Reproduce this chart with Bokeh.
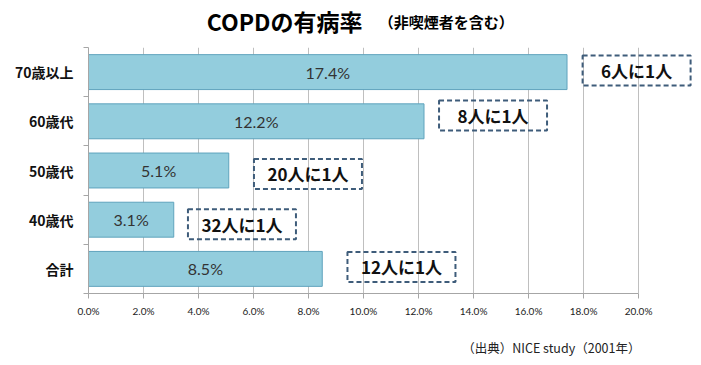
from bokeh.plotting import figure
from bokeh.layouts import column
from bokeh.models import ColumnDataSource, FixedTicker, PrintfTickFormatter
from bokeh.core.properties import value
from bokeh.embed import file_html
from bokeh.resources import INLINE

# ---- data ----
categories = ["合計", "40歳代", "50歳代", "60歳代", "70歳以上"]   # bottom -> top
rates = [8.5, 3.1, 5.1, 12.2, 17.4]                               # %
rate_labels = ["8.5%", "3.1%", "5.1%", "12.2%", "17.4%"]
notes = ["12人に1人", "32人に1人", "20人に1人", "8人に1人", "6人に1人"]
note_x = [11.38, 5.58, 7.98, 14.71, 19.93]        # note box centre, in %
note_dy = [0.04, -0.09, -0.07, 0.12, 0.03]        # note box offset from the bar row
x_ticks = [0, 2, 4, 6, 8, 10, 12, 14, 16, 18, 20]
title_main = "COPDの有病率"
title_sub = "（非喫煙者を含む）"
source_note = "（出典）NICE study（2001年）"

JP = "Noto Sans CJK JP"
X_END = 22.29          # visible x extent (axis itself stops at 20%)
LEFT = 88
FRAME_W = 613

idx = list(range(len(categories)))
src = ColumnDataSource(dict(
    y=idx, rate=rates, half=[r / 2 for r in rates], lbl=rate_labels,
    note=notes, nx=note_x, ny=[i + d for i, d in zip(idx, note_dy)],
))


def blank(height):
    f = figure(frame_width=FRAME_W, frame_height=height, output_backend="svg",
               toolbar_location=None, x_range=(0, X_END), y_range=(0, 1),
               min_border_left=LEFT, min_border_right=0, min_border_top=0,
               min_border_bottom=0, outline_line_color=None)
    f.axis.visible = False
    f.grid.visible = False
    f.title.visible = False
    return f


# ---- title strip ----
t = blank(47)
t.text(x=[4.3], y=[0.57], text=[title_main], text_font=value(JP),
       text_font_style="bold", text_font_size="23px", text_baseline="middle",
       text_color="#000000")
t.text(x=[10.55], y=[0.55], text=[title_sub], text_font=value(JP),
       text_font_style="bold", text_font_size="15px", text_baseline="middle",
       text_color="#000000")

# ---- main chart ----
p = figure(frame_width=FRAME_W, frame_height=246, output_backend="svg",
           toolbar_location=None, x_range=(0, X_END), y_range=(-0.5, 4.5),
           min_border_left=LEFT, min_border_right=0, min_border_top=0,
           min_border_bottom=30, outline_line_color=None)
p.title.visible = False

p.hbar(y="y", right="rate", left=0, height=0.71, source=src,
       fill_color="#93CDDD", line_color="#5FA3BD", line_width=1)

p.text(x="half", y="y", text="lbl", source=src, text_align="center",
       text_baseline="middle", text_font=value("Lato"),
       text_font_size="16px", text_color="#333333")

p.rect(x="nx", y="ny", width=108, height=30, width_units="screen",
       height_units="screen", source=src, fill_color=None,
       line_color="#3E5C7A", line_width=2, line_dash="5 3")
p.text(x="nx", y="ny", text="note", source=src, text_align="center",
       text_baseline="middle", text_font=value(JP), text_font_style="bold",
       text_font_size="17px", text_color="#111111")

p.xaxis.ticker = FixedTicker(ticks=x_ticks)
p.xaxis.bounds = (x_ticks[0], x_ticks[-1])
p.xaxis.formatter = PrintfTickFormatter(format="%.1f%%")
p.xaxis.major_label_text_font = "Lato"
p.xaxis.major_label_text_font_size = "10px"
p.xaxis.major_label_text_color = "#222222"
p.xaxis.major_tick_out = 5
p.xaxis.major_tick_in = 0
p.xaxis.minor_tick_out = 0
p.xaxis.minor_tick_in = 0
p.xaxis.major_label_standoff = 6
p.xaxis.axis_line_color = "#A6A6A6"
p.xaxis.major_tick_line_color = "#A6A6A6"

p.yaxis.ticker = FixedTicker(ticks=idx,
                             minor_ticks=[i - 0.5 for i in idx] + [len(idx) - 0.5])
p.yaxis.major_label_overrides = {i: c for i, c in zip(idx, categories)}
p.yaxis.major_label_text_font = JP
p.yaxis.major_label_text_font_style = "bold"
p.yaxis.major_label_text_font_size = "14px"
p.yaxis.major_label_text_color = "#111111"
p.yaxis.major_tick_out = 0
p.yaxis.major_tick_in = 0
p.yaxis.minor_tick_out = 5
p.yaxis.minor_tick_in = 0
p.yaxis.major_label_standoff = 10
p.yaxis.axis_line_color = "#A6A6A6"
p.yaxis.minor_tick_line_color = "#A6A6A6"

p.xgrid.grid_line_color = "#BFBFBF"
p.ygrid.grid_line_color = None

# ---- source strip ----
s = blank(42)
s.text(x=[20.07], y=[0.43], text=[source_note], text_font=value(JP),
       text_font_size="12.5px", text_align="right", text_baseline="middle",
       text_color="#222222")

layout = column(t, p, s, spacing=0)
open("out.html", "w").write(file_html(layout, INLINE))
